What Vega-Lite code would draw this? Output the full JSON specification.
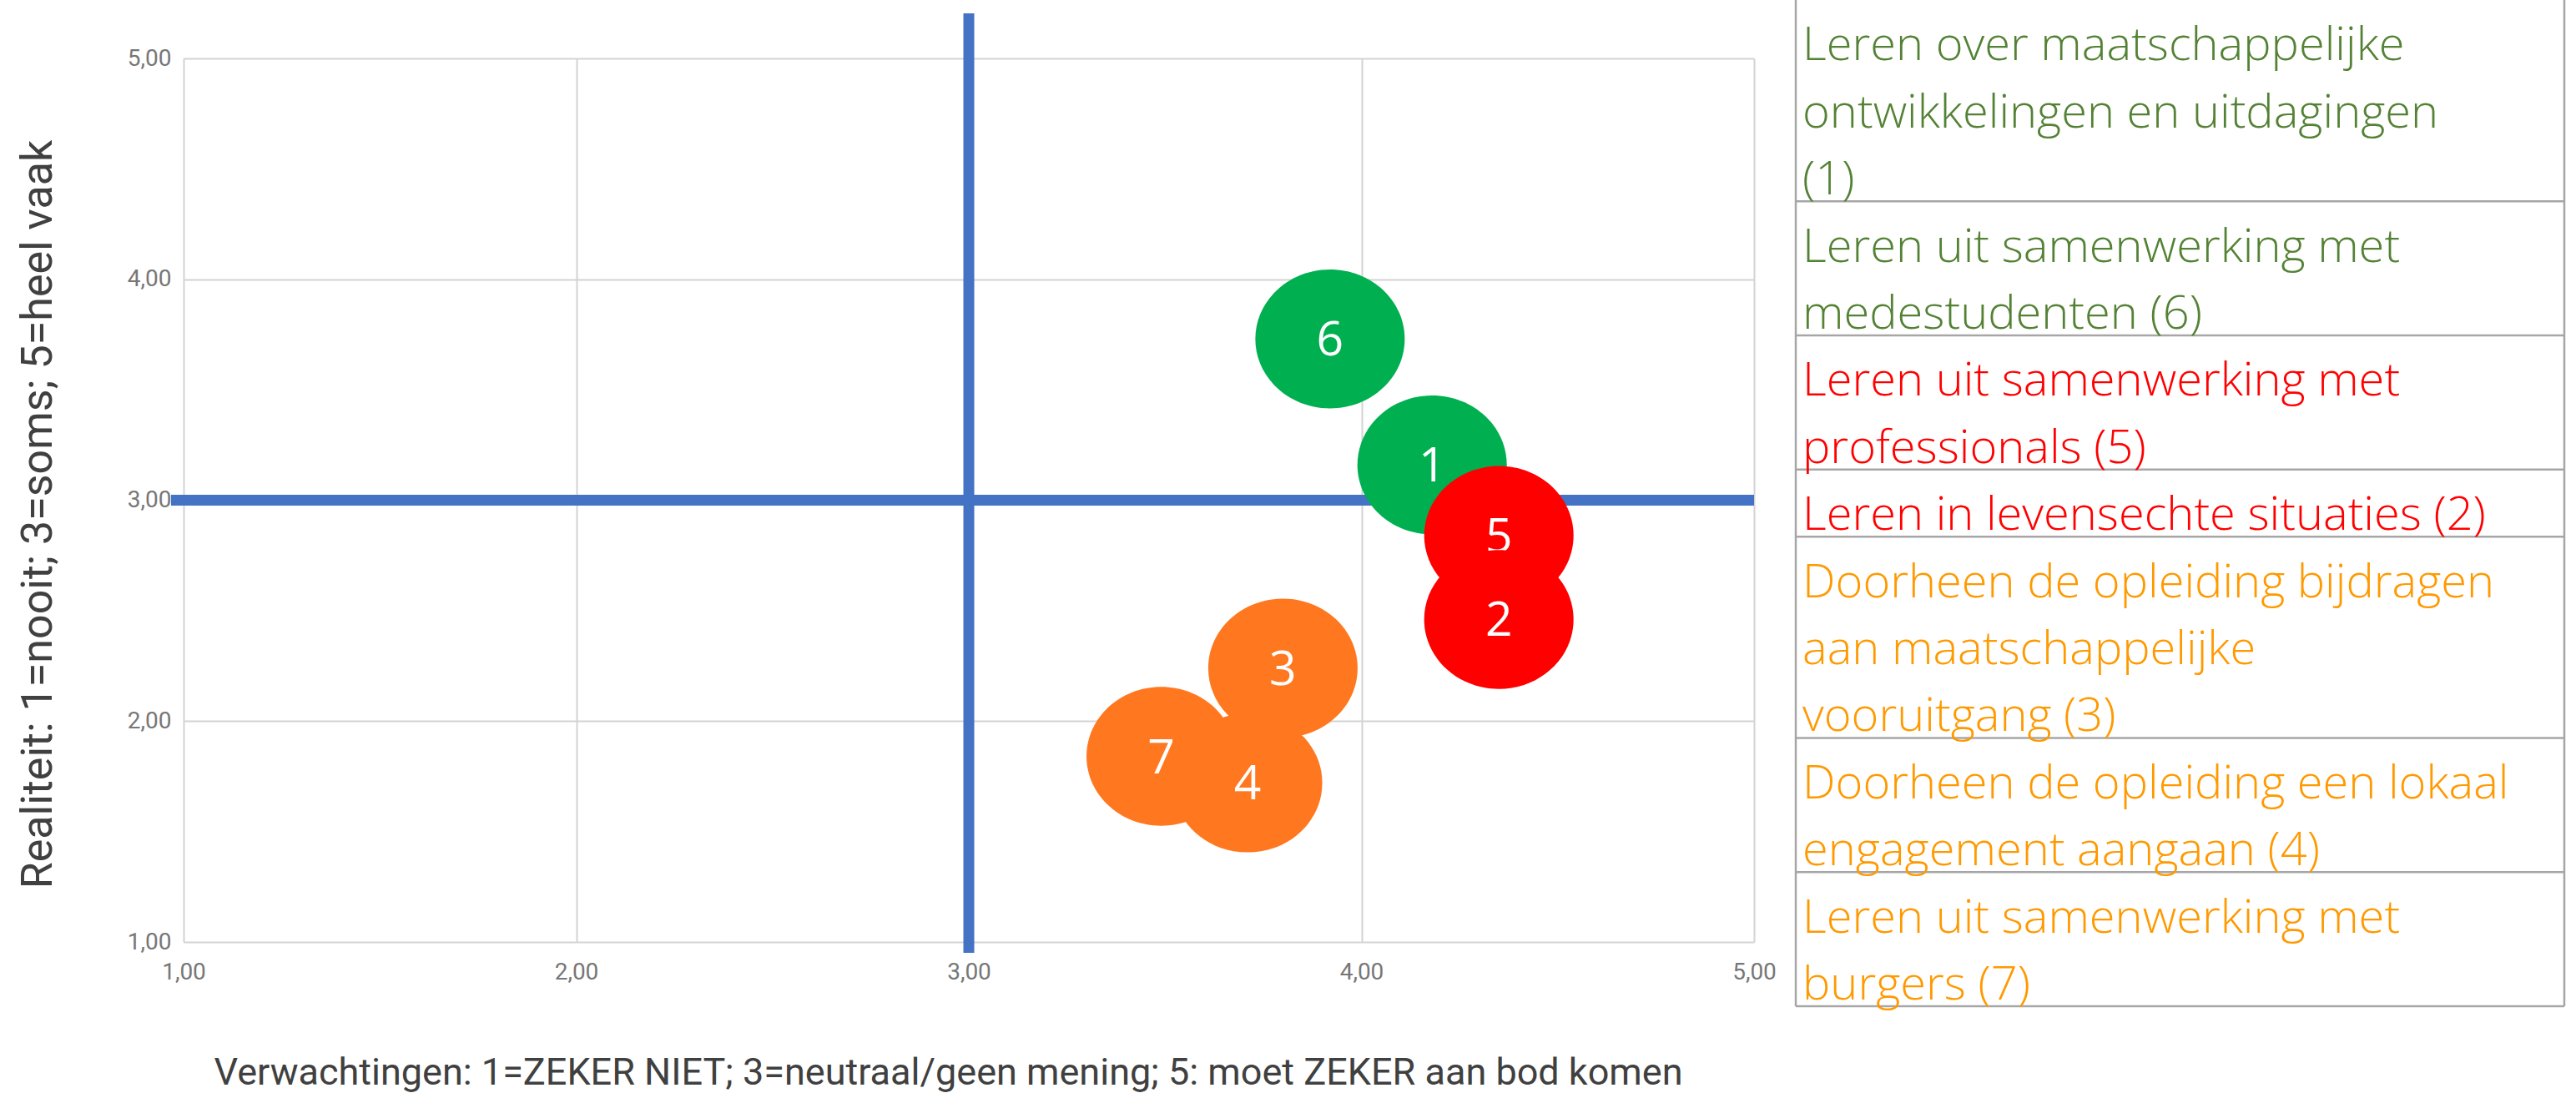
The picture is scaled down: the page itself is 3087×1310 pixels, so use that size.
{
  "$schema": "https://vega.github.io/schema/vega-lite/v6.json",
  "width": 1882,
  "height": 1059,
  "autosize": {"type": "none"},
  "padding": {"left": 220, "top": 70, "right": 985, "bottom": 181},
  "background": "white",
  "config": {"view": {"stroke": null}},
  "datasets": {
    "punten": [
      {"nr": "6", "verwachting": 3.92, "realiteit": 3.73, "groep": "groen"},
      {"nr": "1", "verwachting": 4.18, "realiteit": 3.16, "groep": "groen"},
      {"nr": "5", "verwachting": 4.35, "realiteit": 2.84, "groep": "rood"},
      {"nr": "3", "verwachting": 3.80, "realiteit": 2.24, "groep": "oranje"},
      {"nr": "7", "verwachting": 3.49, "realiteit": 1.84, "groep": "oranje"},
      {"nr": "4", "verwachting": 3.71, "realiteit": 1.72, "groep": "oranje"},
      {"nr": "2", "verwachting": 4.35, "realiteit": 2.46, "groep": "rood"}
    ],
    "kwadranten": [
      {"van_x": 3, "tot_x": 3, "van_y": 0.951, "tot_y": 5.204},
      {"van_x": 0.968, "tot_x": 5.0, "van_y": 3, "tot_y": 3}
    ],
    "legenda": [
      {"item": 1, "regel": 1, "tekst": "Leren over maatschappelijke", "groep": "groen"},
      {"item": 1, "regel": 2, "tekst": "ontwikkelingen en uitdagingen", "groep": "groen"},
      {"item": 1, "regel": 3, "tekst": "(1)", "groep": "groen"},
      {"item": 2, "regel": 1, "tekst": "Leren uit samenwerking met", "groep": "groen"},
      {"item": 2, "regel": 2, "tekst": "medestudenten (6)", "groep": "groen"},
      {"item": 3, "regel": 1, "tekst": "Leren uit samenwerking met", "groep": "rood"},
      {"item": 3, "regel": 2, "tekst": "professionals (5)", "groep": "rood"},
      {"item": 4, "regel": 1, "tekst": "Leren in levensechte situaties (2)", "groep": "rood"},
      {"item": 5, "regel": 1, "tekst": "Doorheen de opleiding bijdragen", "groep": "oranje"},
      {"item": 5, "regel": 2, "tekst": "aan maatschappelijke", "groep": "oranje"},
      {"item": 5, "regel": 3, "tekst": "vooruitgang (3)", "groep": "oranje"},
      {"item": 6, "regel": 1, "tekst": "Doorheen de opleiding een lokaal", "groep": "oranje"},
      {"item": 6, "regel": 2, "tekst": "engagement aangaan (4)", "groep": "oranje"},
      {"item": 7, "regel": 1, "tekst": "Leren uit samenwerking met", "groep": "oranje"},
      {"item": 7, "regel": 2, "tekst": "burgers (7)", "groep": "oranje"}
    ],
    "randen": [{"rand": 0, "boven": 0, "onder": 15}, {"rand": 1, "boven": 0, "onder": 15}]
  },
  "layer": [
    {
      "data": {"name": "kwadranten"},
      "mark": {"type": "rule", "color": "#4472C4", "strokeWidth": 13, "clip": false},
      "encoding": {
        "x": {
          "field": "van_x", "type": "quantitative",
          "scale": {"domain": [1, 5], "nice": false, "zero": false},
          "axis": {
            "values": [1, 2, 3, 4, 5],
            "labelExpr": "replace(format(datum.value, '.2f'), '.', ',')",
            "grid": true, "gridColor": "#D3D3D3", "gridWidth": 2,
            "domain": false, "ticks": false,
            "labelFlush": false, "labelFont": "Roboto", "labelFontSize": 28, "labelColor": "#777777", "labelPadding": 22,
            "title": "Verwachtingen: 1=ZEKER NIET; 3=neutraal/geen mening; 5: moet ZEKER aan bod komen",
            "titleFont": "Roboto", "titleFontSize": 45, "titleFontWeight": "normal", "titleColor": "#404040", "titlePadding": 84,
            "titleX": 916
          }
        },
        "x2": {"field": "tot_x"},
        "y": {
          "field": "van_y", "type": "quantitative",
          "scale": {"domain": [1, 5], "nice": false, "zero": false},
          "axis": {
            "values": [1, 2, 3, 4, 5],
            "labelExpr": "replace(format(datum.value, '.2f'), '.', ',')",
            "grid": true, "gridColor": "#D3D3D3", "gridWidth": 2,
            "domain": false, "ticks": false,
            "labelFlush": false, "labelFont": "Roboto", "labelFontSize": 28, "labelColor": "#777777", "labelPadding": 15,
            "title": "Realiteit: 1=nooit; 3=soms; 5=heel vaak",
            "titleFont": "Roboto", "titleFontSize": 52, "titleFontWeight": "normal", "titleColor": "#404040", "titlePadding": 80,
            "titleY": 546
          }
        },
        "y2": {"field": "tot_y"}
      }
    },
    {
      "data": {"name": "punten"},
      "transform": [{"filter": "datum.nr != '2'"}],
      "mark": {"type": "point", "filled": true, "opacity": 1, "strokeWidth": 0, "size": 32041, "clip": false,
               "shape": "M -1 0 C -1 -0.514 -0.5523 -0.93 0 -0.93 C 0.5523 -0.93 1 -0.514 1 0 C 1 0.514 0.5523 0.93 0 0.93 C -0.5523 0.93 -1 0.514 -1 0 Z"},
      "encoding": {
        "x": {"field": "verwachting", "type": "quantitative", "scale": {"domain": [1, 5], "nice": false, "zero": false}, "axis": null},
        "y": {"field": "realiteit", "type": "quantitative", "scale": {"domain": [1, 5], "nice": false, "zero": false}, "axis": null},
        "color": {"field": "groep", "type": "nominal", "scale": {"domain": ["groen", "rood", "oranje"], "range": ["#00B050", "#FF0000", "#FF781F"]}, "legend": null}
      }
    },
    {
      "data": {"name": "punten"},
      "transform": [{"filter": "datum.nr != '2'"}],
      "mark": {"type": "text", "font": "Open Sans", "fontSize": 57, "color": "white", "baseline": "middle", "align": "center", "dy": 3, "clip": false},
      "encoding": {
        "x": {"field": "verwachting", "type": "quantitative", "scale": {"domain": [1, 5], "nice": false, "zero": false}, "axis": null},
        "y": {"field": "realiteit", "type": "quantitative", "scale": {"domain": [1, 5], "nice": false, "zero": false}, "axis": null},
        "text": {"field": "nr"}
      }
    },
    {
      "data": {"name": "punten"},
      "transform": [{"filter": "datum.nr == '2'"}],
      "mark": {"type": "point", "filled": true, "opacity": 1, "strokeWidth": 0, "size": 32041, "clip": false,
               "shape": "M -1 0 C -1 -0.514 -0.5523 -0.93 0 -0.93 C 0.5523 -0.93 1 -0.514 1 0 C 1 0.514 0.5523 0.93 0 0.93 C -0.5523 0.93 -1 0.514 -1 0 Z"},
      "encoding": {
        "x": {"field": "verwachting", "type": "quantitative", "scale": {"domain": [1, 5], "nice": false, "zero": false}, "axis": null},
        "y": {"field": "realiteit", "type": "quantitative", "scale": {"domain": [1, 5], "nice": false, "zero": false}, "axis": null},
        "color": {"field": "groep", "type": "nominal", "scale": {"domain": ["groen", "rood", "oranje"], "range": ["#00B050", "#FF0000", "#FF781F"]}, "legend": null}
      }
    },
    {
      "data": {"name": "punten"},
      "transform": [{"filter": "datum.nr == '2'"}],
      "mark": {"type": "text", "font": "Open Sans", "fontSize": 57, "color": "white", "baseline": "middle", "align": "center", "dy": 3, "clip": false},
      "encoding": {
        "x": {"field": "verwachting", "type": "quantitative", "scale": {"domain": [1, 5], "nice": false, "zero": false}, "axis": null},
        "y": {"field": "realiteit", "type": "quantitative", "scale": {"domain": [1, 5], "nice": false, "zero": false}, "axis": null},
        "text": {"field": "nr"}
      }
    },
    {
      "data": {"name": "legenda"},
      "transform": [
        {"aggregate": [{"op": "count", "as": "regels"}], "groupby": ["item"]},
        {"window": [{"op": "sum", "field": "regels", "as": "eind"}], "sort": [{"field": "item"}]}
      ],
      "mark": {"type": "rule", "color": "#A6A6A6", "strokeWidth": 2.5, "clip": false},
      "encoding": {
        "x": {"datum": 0, "type": "quantitative", "scale": {"domain": [0, 1], "range": [1932, 2853], "nice": false, "zero": false}, "axis": null},
        "x2": {"datum": 1},
        "y": {"field": "eind", "type": "quantitative", "scale": {"domain": [0, 15], "range": [-70, 1136], "nice": false, "zero": false}, "axis": null}
      }
    },
    {
      "data": {"name": "randen"},
      "mark": {"type": "rule", "color": "#A6A6A6", "strokeWidth": 2.5, "clip": false},
      "encoding": {
        "x": {"field": "rand", "type": "quantitative", "scale": {"domain": [0, 1], "range": [1932, 2853], "nice": false, "zero": false}, "axis": null},
        "y": {"field": "boven", "type": "quantitative", "scale": {"domain": [0, 15], "range": [-70, 1136], "nice": false, "zero": false}, "axis": null},
        "y2": {"field": "onder"}
      }
    },
    {
      "data": {"name": "legenda"},
      "transform": [
        {"window": [{"op": "row_number", "as": "regelnr"}], "sort": [{"field": "item"}, {"field": "regel"}]}
      ],
      "mark": {"type": "text", "align": "left", "baseline": "alphabetic", "dx": 8, "dy": -8, "font": "Open Sans", "fontWeight": 300, "fontSize": 56, "clip": false},
      "encoding": {
        "x": {"datum": 0, "type": "quantitative", "scale": {"domain": [0, 1], "range": [1932, 2853], "nice": false, "zero": false}, "axis": null},
        "y": {"field": "regelnr", "type": "quantitative", "scale": {"domain": [0, 15], "range": [-70, 1136], "nice": false, "zero": false}, "axis": null},
        "text": {"field": "tekst"},
        "color": {"field": "groep", "type": "nominal", "scale": {"domain": ["groen", "rood", "oranje"], "range": ["#548235", "#FF0000", "#FF9900"]}, "legend": null}
      }
    }
  ],
  "resolve": {"scale": {"x": "independent", "y": "independent", "color": "independent"}, "axis": {"x": "independent", "y": "independent"}}
}
